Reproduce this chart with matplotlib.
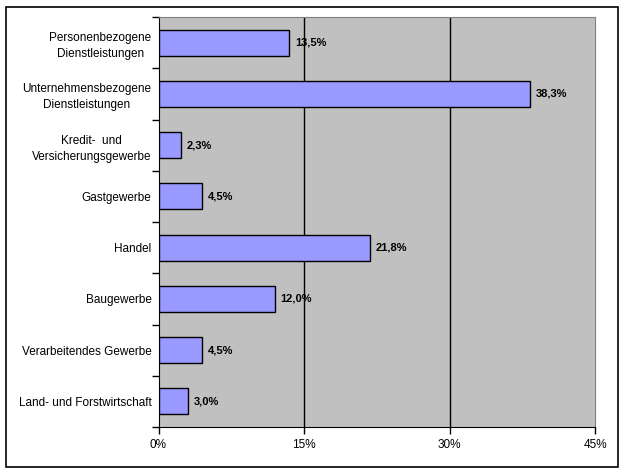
import matplotlib
matplotlib.use("Agg")
import matplotlib.pyplot as plt
from matplotlib.patches import Rectangle
import numpy as np

# data (top to bottom as in the chart)
categories = [
    "Personenbezogene\nDienstleistungen",
    "Unternehmensbezogene\nDienstleistungen",
    "Kredit-  und\nVersicherungsgewerbe",
    "Gastgewerbe",
    "Handel",
    "Baugewerbe",
    "Verarbeitendes Gewerbe",
    "Land- und Forstwirtschaft",
]
values = [13.5, 38.3, 2.3, 4.5, 21.8, 12.0, 4.5, 3.0]
value_labels = ["13,5%", "38,3%", "2,3%", "4,5%", "21,8%", "12,0%", "4,5%", "3,0%"]
xticks = [0, 15, 30, 45]
xtick_labels = ["0%", "15%", "30%", "45%"]

plt.rcParams["font.family"] = ["Liberation Sans", "DejaVu Sans"]

fig = plt.figure(figsize=(6.25, 4.74), dpi=100)
fig.patch.set_facecolor("white")

# outer chart border
fig.patches.append(Rectangle((6 / 625, 7 / 474), 612 / 625, 460 / 474,
                             transform=fig.transFigure, fill=False,
                             edgecolor="black", lw=1.2))

ax = fig.add_axes([158.5 / 625, 47 / 474, 436.5 / 625, 410 / 474])
ax.set_facecolor("#C0C0C0")

y = np.arange(len(categories))
ax.barh(y, values, height=0.51, color="#9999FF", edgecolor="black",
        lw=1.0, zorder=3)

for yi, v, lab in zip(y, values, value_labels):
    ax.text(v + 0.6, yi, lab, va="center", ha="left", fontsize=8,
            fontweight="bold", zorder=4)

ax.set_xlim(0, 45)
ax.set_ylim(len(categories) - 0.5, -0.5)

for xv in xticks[1:-1]:
    ax.axvline(xv, color="black", lw=1.0, zorder=1)

ax.set_xticks(xticks)
ax.set_xticklabels(xtick_labels, fontsize=8.5)
ax.set_yticks(y)
ax.set_yticklabels(categories, fontsize=8.5, ha="right", multialignment="center",
                   linespacing=1.45)
ax.tick_params(axis="y", length=0, pad=5)
ax.set_yticks(np.arange(-0.5, len(categories), 1), minor=True)
ax.tick_params(axis="y", which="minor", length=5, width=1, direction="out")
ax.tick_params(axis="x", length=5, width=1, direction="out", pad=3.5)

ax.spines["left"].set_color("black")
ax.spines["bottom"].set_color("black")
ax.spines["top"].set_color("#808080")
ax.spines["right"].set_color("#808080")

plt.savefig("out.png", dpi=100)
